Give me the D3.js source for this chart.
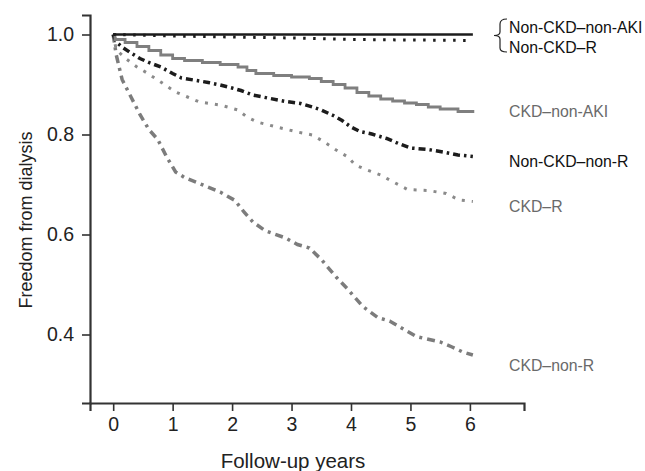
<!DOCTYPE html>
<html>
<head>
<meta charset="utf-8">
<script src="https://cdn.jsdelivr.net/npm/d3@7"></script>
<style>
  body { margin: 0; background: #fff; }
  text { font-family: "Liberation Sans", Arial, Helvetica, sans-serif; }
</style>
</head>
<body>
<div id="vis"></div>
<script>
// Kaplan-Meier style curves (time in years, freedom from dialysis)
var nonCkdNonAkiT = [0, 6.05];
var nonCkdNonAkiV = [1.0, 1.0];

var nonCkdRT = [0, 1, 2, 3, 4, 5, 6.05];
var nonCkdRV = [1.0, 0.997, 0.995, 0.993, 0.99, 0.989, 0.988];

var ckdNonAkiT = [0, 0.03, 0.2, 0.4, 0.6, 0.8, 1.0, 1.2, 1.5, 1.8, 2.1, 2.25, 2.4, 2.7, 3.0, 3.3, 3.5, 3.7, 3.9, 4.1, 4.3, 4.5, 4.7, 4.9, 5.1, 5.3, 5.5, 5.8, 6.05];
var ckdNonAkiV = [1.0, 0.99, 0.984, 0.976, 0.968, 0.959, 0.952, 0.948, 0.944, 0.94, 0.935, 0.928, 0.922, 0.918, 0.915, 0.912, 0.906, 0.9, 0.893, 0.884, 0.877, 0.871, 0.867, 0.863, 0.86, 0.855, 0.851, 0.846, 0.843];

var nonCkdNonRT = [0, 0.05, 0.15, 0.3, 0.45, 0.6, 0.8, 1.0, 1.15, 1.4, 1.6, 1.8, 2.0, 2.15, 2.35, 2.6, 2.9, 3.15, 3.35, 3.5, 3.7, 3.85, 4.0, 4.15, 4.35, 4.6, 4.8, 5.0, 5.3, 5.55, 5.8, 6.05];
var nonCkdNonRV = [1.0, 0.985, 0.975, 0.963, 0.952, 0.944, 0.935, 0.922, 0.913, 0.908, 0.904, 0.899, 0.893, 0.888, 0.879, 0.873, 0.866, 0.862, 0.855, 0.849, 0.838, 0.828, 0.815, 0.806, 0.801, 0.792, 0.782, 0.773, 0.77, 0.765, 0.759, 0.756];

var ckdRT = [0, 0.05, 0.2, 0.4, 0.57, 0.8, 1.05, 1.25, 1.45, 1.8, 2.1, 2.25, 2.42, 2.75, 3.1, 3.35, 3.55, 3.75, 3.95, 4.07, 4.27, 4.5, 4.65, 4.95, 5.3, 5.6, 5.82, 6.05];
var ckdRV = [1.0, 0.97, 0.953, 0.935, 0.923, 0.905, 0.885, 0.875, 0.865, 0.859, 0.849, 0.835, 0.825, 0.815, 0.805, 0.799, 0.785, 0.769, 0.755, 0.739, 0.729, 0.719, 0.709, 0.69, 0.688, 0.682, 0.669, 0.666];

var ckdNonRT = [0, 0.05, 0.15, 0.3, 0.45, 0.6, 0.75, 0.9, 1.05, 1.2, 1.45, 1.8, 2.05, 2.2, 2.35, 2.55, 2.9, 3.1, 3.3, 3.5, 3.75, 3.95, 4.2, 4.45, 4.65, 4.85, 5.1, 5.5, 5.7, 5.88, 6.05];
var ckdNonRV = [1.0, 0.96, 0.91, 0.875, 0.84, 0.81, 0.79, 0.755, 0.725, 0.714, 0.702, 0.685, 0.668, 0.645, 0.625, 0.608, 0.593, 0.58, 0.573, 0.55, 0.515, 0.49, 0.456, 0.434, 0.427, 0.413, 0.396, 0.385, 0.375, 0.365, 0.359];

var xTicks = [0, 1, 2, 3, 4, 5, 6];
var yTicks = [0.4, 0.6, 0.8, 1.0];

var width = 645, height = 471;
var svg = d3.select("#vis").append("svg")
    .attr("width", width)
    .attr("height", height);

// scales (axis spans a bit past the data on both ends, like the original)
var x = d3.scaleLinear().domain([-0.39, 6.91]).range([90, 524]);
var y = d3.scaleLinear().domain([0.263, 1.039]).range([403, 15]);

var axisColor = "#333";

// x axis
var gx = svg.append("g")
    .attr("transform", "translate(0," + y(0.263) + ")")
    .call(d3.axisBottom(x).tickValues(xTicks).tickFormat(d3.format("d")).tickSizeOuter(0).tickSize(8).tickPadding(6));
gx.select(".domain").attr("stroke", axisColor).attr("stroke-width", 2.2);
gx.selectAll(".tick line").attr("stroke", axisColor).attr("stroke-width", 1.6);
gx.selectAll(".tick text").attr("fill", "#222").style("font-size", "19.5px")
    .style("font-family", '"Liberation Sans", Arial, sans-serif');

// y axis
var gy = svg.append("g")
    .attr("transform", "translate(" + x(-0.39) + ",0)")
    .call(d3.axisLeft(y).tickValues(yTicks).tickFormat(d3.format(".1f")).tickSizeOuter(0).tickSize(8).tickPadding(8));
gy.select(".domain").attr("stroke", axisColor).attr("stroke-width", 2.2);
gy.selectAll(".tick line").attr("stroke", axisColor).attr("stroke-width", 1.6);
gy.selectAll(".tick text").attr("fill", "#222").style("font-size", "19.5px")
    .style("font-family", '"Liberation Sans", Arial, sans-serif');

// axis titles
svg.append("text")
    .attr("x", 293)
    .attr("y", 468)
    .attr("text-anchor", "middle")
    .style("font-size", "20.5px")
    .attr("fill", "#222")
    .text("Follow-up years");

svg.append("text")
    .attr("transform", "translate(32,220) rotate(-90)")
    .attr("text-anchor", "middle")
    .style("font-size", "18px")
    .attr("fill", "#222")
    .text("Freedom from dialysis");

// curves: solid ones drawn as steps, broken ones straight so the dash pattern reads cleanly
var series = [
  {t: ckdNonRT, v: ckdNonRV, color: "#7c7c7c", w: 3.5, dash: "8,5,3,5", step: false},
  {t: ckdRT, v: ckdRV, color: "#8a8a8a", w: 3, dash: "3,7", step: false},
  {t: nonCkdNonRT, v: nonCkdNonRV, color: "#1c1c1c", w: 3.5, dash: "7,4,2.5,4", step: false},
  {t: ckdNonAkiT, v: ckdNonAkiV, color: "#7f7f7f", w: 2.8, dash: null, step: true},
  {t: nonCkdRT, v: nonCkdRV, color: "#1c1c1c", w: 3, dash: "2.5,7.5", step: false},
  {t: nonCkdNonAkiT, v: nonCkdNonAkiV, color: "#1c1c1c", w: 2.5, dash: null, step: true}
];

series.forEach(function(s) {
  var line = d3.line()
      .x(function(d) { return x(d[0]); })
      .y(function(d) { return y(d[1]); })
      .curve(s.step ? d3.curveStepAfter : d3.curveLinear);
  var pts = s.t.map(function(t, i) { return [t, s.v[i]]; });
  svg.append("path")
      .datum(pts)
      .attr("d", line)
      .attr("fill", "none")
      .attr("stroke", s.color)
      .attr("stroke-width", s.w)
      .attr("stroke-dasharray", s.dash);
});

// labels on the right
var labels = [
  {text: "Non-CKD\u2013non-AKI", y: 32.5, color: "#111"},
  {text: "Non-CKD\u2013R", y: 53, color: "#111"},
  {text: "CKD\u2013non-AKI", y: 117, color: "#6a6a6a"},
  {text: "Non-CKD\u2013non-R", y: 166.5, color: "#111"},
  {text: "CKD\u2013R", y: 211.5, color: "#6a6a6a"},
  {text: "CKD\u2013non-R", y: 370.5, color: "#6a6a6a"}
];

svg.selectAll(".lbl")
  .data(labels)
  .enter()
  .append("text")
    .attr("class", "lbl")
    .attr("x", 509)
    .attr("y", function(d) { return d.y; })
    .attr("fill", function(d) { return d.color; })
    .style("font-size", "15.8px")
    .text(function(d) { return d.text; });

// brace grouping the two top labels
svg.append("path")
    .attr("d", "M507,19 Q500,19 500,24 L500,32 Q500,35.5 494,35.5 Q500,35.5 500,39 L500,48 Q500,52 507,52")
    .attr("fill", "none")
    .attr("stroke", "#222")
    .attr("stroke-width", 1.2);
</script>
</body>
</html>
